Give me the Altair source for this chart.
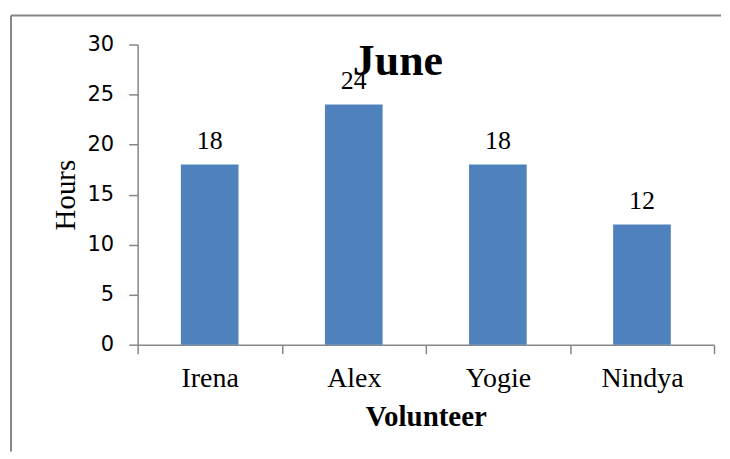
import altair as alt
import pandas as pd

volunteers = ["Irena", "Alex", "Yogie", "Nindya"]
hours = [18, 24, 18, 12]
y_ticks = [0, 5, 10, 15, 20, 25, 30]

df = pd.DataFrame({"Volunteer": volunteers, "Hours": hours})

AXIS_GRAY = "#868686"
BAR_BLUE = "#4F81BD"
SERIF = "Liberation Serif"

x_enc = alt.X(
    "Volunteer:N",
    sort=volunteers,
    scale=alt.Scale(paddingInner=0, paddingOuter=0),
    axis=alt.Axis(
        title="Volunteer",
        labelAngle=0,
        tickBand="extent",
        tickSize=9,
        labelPadding=11,
        titlePadding=10,
        labelFont=SERIF,
        labelFontSize=28,
        labelColor="black",
        titleFont=SERIF,
        titleFontSize=29,
        titleFontWeight="bold",
        titleColor="black",
        domainColor=AXIS_GRAY,
        tickColor=AXIS_GRAY,
        domainWidth=1.5,
        tickWidth=1.5,
    ),
)
y_enc = alt.Y(
    "Hours:Q",
    scale=alt.Scale(domain=[0, 30], nice=False),
    axis=alt.Axis(
        title="Hours",
        values=y_ticks,
        grid=False,
        tickSize=9,
        labelPadding=15,
        titlePadding=7,
        labelFont="DejaVu Sans",
        labelFontSize=21,
        labelColor="black",
        titleFont=SERIF,
        titleFontSize=29,
        titleFontWeight="normal",
        titleColor="black",
        domainColor=AXIS_GRAY,
        tickColor=AXIS_GRAY,
        domainWidth=1.5,
        tickWidth=1.5,
    ),
)

bars = alt.Chart(df).mark_bar(color=BAR_BLUE, width=alt.RelativeBandSize(0.4)).encode(
    x=x_enc, y=y_enc
)
labels = alt.Chart(df).mark_text(
    font=SERIF, fontSize=26, baseline="alphabetic", dy=-16, color="black"
).encode(x=alt.X("Volunteer:N", sort=volunteers), y="Hours:Q", text="Hours:Q")

frame_df = pd.DataFrame({"k": [0]})
frame_top = alt.Chart(frame_df).mark_rule(color=AXIS_GRAY, strokeWidth=2).encode(
    x=alt.value(-127), x2=alt.value(585), y=alt.value(-29)
)
frame_left = alt.Chart(frame_df).mark_rule(color=AXIS_GRAY, strokeWidth=2).encode(
    x=alt.value(-127), y=alt.value(-29), y2=alt.value(408)
)

chart = alt.layer(frame_top, frame_left, bars, labels).properties(
    width=578,
    height=301,
    padding={"left": 2, "top": 6, "right": 0, "bottom": 0},
    title=alt.TitleParams(
        "June",
        font=SERIF,
        fontSize=44,
        fontWeight="bold",
        color="black",
        anchor="middle",
        frame="group",
        dx=-28,
        offset=-105,
        baseline="alphabetic",
    ),
).configure_view(stroke=None)

chart.save("out.html", embed_options={"renderer": "svg", "actions": False})
